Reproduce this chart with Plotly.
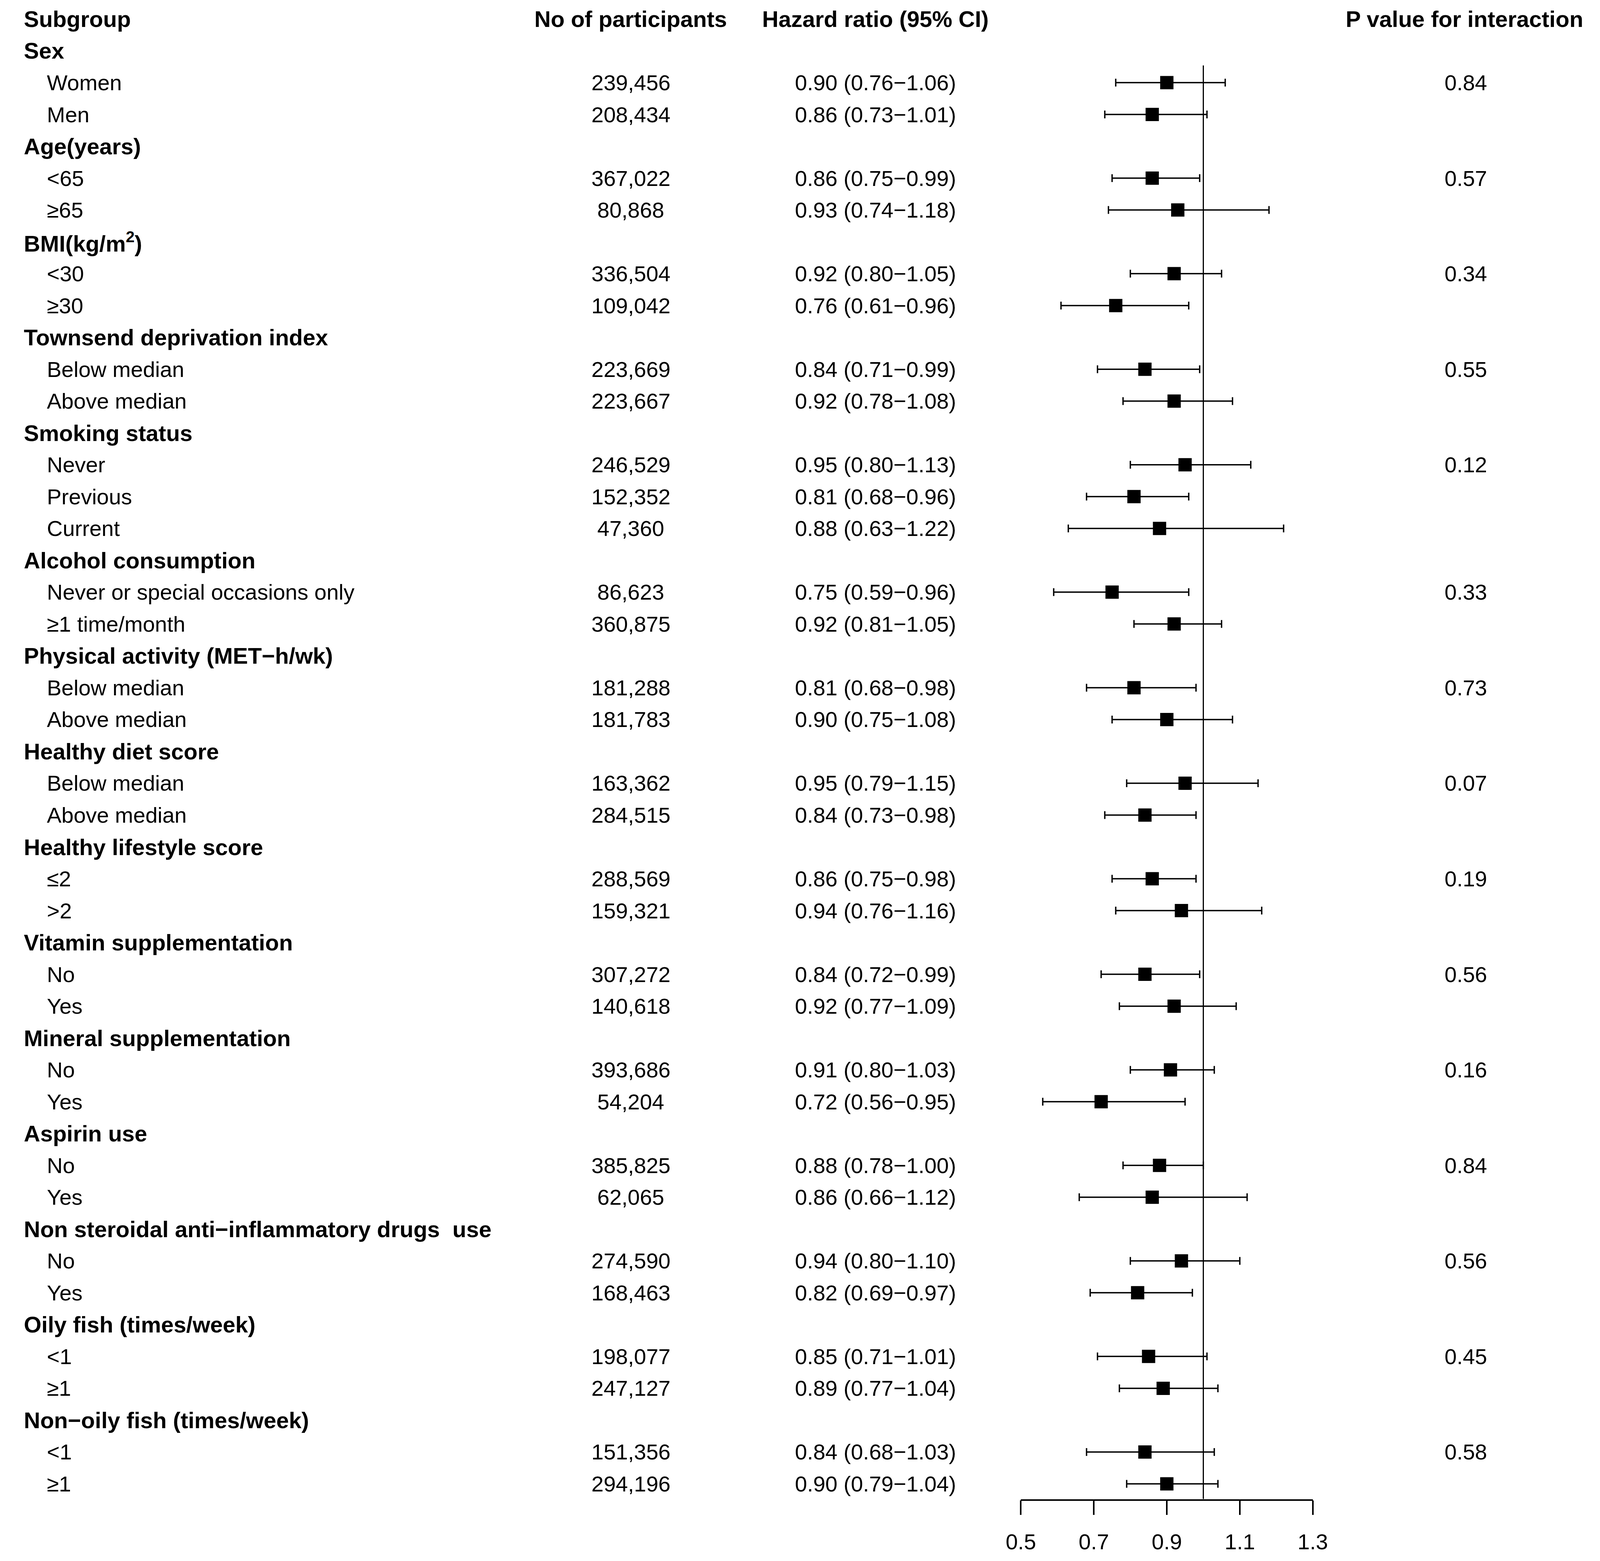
import plotly.graph_objects as go

# subgroup analysis data
groups = [
    "Sex", "Age(years)", "BMI(kg/m<sup>2</sup>)", "Townsend deprivation index",
    "Smoking status", "Alcohol consumption", "Physical activity (MET−h/wk)",
    "Healthy diet score", "Healthy lifestyle score", "Vitamin supplementation",
    "Mineral supplementation", "Aspirin use",
    "Non steroidal anti−inflammatory drugs  use",
    "Oily fish (times/week)", "Non−oily fish (times/week)",
]
group_sizes = [2, 2, 2, 2, 3, 2, 2, 2, 2, 2, 2, 2, 2, 2, 2]
p_interaction = ["0.84", "0.57", "0.34", "0.55", "0.12", "0.33", "0.73", "0.07",
                 "0.19", "0.56", "0.16", "0.84", "0.56", "0.45", "0.58"]

subgroups = [
    "Women", "Men",
    "<65", "≥65",
    "<30", "≥30",
    "Below median", "Above median",
    "Never", "Previous", "Current",
    "Never or special occasions only", "≥1 time/month",
    "Below median", "Above median",
    "Below median", "Above median",
    "≤2", ">2",
    "No", "Yes",
    "No", "Yes",
    "No", "Yes",
    "No", "Yes",
    "<1", "≥1",
    "<1", "≥1",
]
participants = [
    239456, 208434, 367022, 80868, 336504, 109042, 223669, 223667,
    246529, 152352, 47360, 86623, 360875, 181288, 181783, 163362, 284515,
    288569, 159321, 307272, 140618, 393686, 54204, 385825, 62065,
    274590, 168463, 198077, 247127, 151356, 294196,
]
hr = [0.90, 0.86, 0.86, 0.93, 0.92, 0.76, 0.84, 0.92, 0.95, 0.81, 0.88,
      0.75, 0.92, 0.81, 0.90, 0.95, 0.84, 0.86, 0.94, 0.84, 0.92, 0.91,
      0.72, 0.88, 0.86, 0.94, 0.82, 0.85, 0.89, 0.84, 0.90]
lower = [0.76, 0.73, 0.75, 0.74, 0.80, 0.61, 0.71, 0.78, 0.80, 0.68, 0.63,
         0.59, 0.81, 0.68, 0.75, 0.79, 0.73, 0.75, 0.76, 0.72, 0.77, 0.80,
         0.56, 0.78, 0.66, 0.80, 0.69, 0.71, 0.77, 0.68, 0.79]
upper = [1.06, 1.01, 0.99, 1.18, 1.05, 0.96, 0.99, 1.08, 1.13, 0.96, 1.22,
         0.96, 1.05, 0.98, 1.08, 1.15, 0.98, 0.98, 1.16, 0.99, 1.09, 1.03,
         0.95, 1.00, 1.12, 1.10, 0.97, 1.01, 1.04, 1.03, 1.04]
x_ticks = [0.5, 0.7, 0.9, 1.1, 1.3]

# the browser viewport is 4096 px wide, so fit the page into it
# (8 px body margin); layout positions are taken from a 4550x3996 reference
REF_W, REF_H = 4550, 3996
W, H = 4088, 3980
sy = H / REF_H
FONT = "Liberation Sans, Arial, sans-serif"
REG, BOLD = 56, 58

# row layout: 0 = header, then group heading + its subgroup rows
head_rows, sub_rows, p_rows = [], [], []
r = 1
for g, n in zip(groups, group_sizes):
    head_rows.append(r)
    p_rows.append(r + 1)
    sub_rows.extend(range(r + 1, r + 1 + n))
    r += n + 1

row_px, top_px, axis_px = 81.85 * sy, 40.6 * sy, 3845 * sy
y_top = -top_px / row_px
y_bot = (axis_px - top_px) / row_px

fig = go.Figure()
fig.add_trace(go.Scatter(
    x=hr, y=sub_rows, mode="markers",
    marker=dict(symbol="square", size=34, color="black"),
    error_x=dict(type="data", symmetric=False,
                 array=[u - h for u, h in zip(upper, hr)],
                 arrayminus=[h - l for h, l in zip(hr, lower)],
                 color="black", thickness=3.5, width=10),
    cliponaxis=False, showlegend=False, hoverinfo="skip",
))

# reference line at HR = 1
fig.add_shape(type="line", xref="x", yref="y", x0=1, x1=1, y0=1.46, y1=y_bot,
              line=dict(color="black", width=3))

ann = []
def txt(x, y, s, size=REG, anchor="left"):
    ann.append(dict(x=x, y=y, xref="paper", yref="y", text=s, showarrow=False,
                    xanchor=anchor, yanchor="middle",
                    font=dict(family=FONT, size=size, color="black")))

col_sub, col_ind = 14 / REF_W, 81 / REF_W
col_n, col_hr, col_p = 1779 / REF_W, 2490 / REF_W, 4205 / REF_W

txt(col_sub, 0, "<b>Subgroup</b>", BOLD)
txt(col_n, 0, "<b>No of participants</b>", BOLD, "center")
txt(col_hr, 0, "<b>Hazard ratio (95% CI)</b>", BOLD, "center")
txt(col_p - 4 / REF_W, 0, "<b>P value for interaction</b>", BOLD, "center")

for g, row in zip(groups, head_rows):
    txt(col_sub, row, f"<b>{g}</b>", BOLD)
for p, row in zip(p_interaction, p_rows):
    txt(col_p, row, p, REG, "center")
for i, row in enumerate(sub_rows):
    txt(col_ind, row, subgroups[i])
    txt(col_n, row, f"{participants[i]:,}", REG, "center")
    txt(col_hr, row, f"{hr[i]:.2f} ({lower[i]:.2f}−{upper[i]:.2f})", REG, "center")

fig.update_layout(
    width=W, height=H, margin=dict(l=0, r=0, t=0, b=0),
    paper_bgcolor="white", plot_bgcolor="white",
    font=dict(family=FONT, size=REG, color="black"),
    annotations=ann,
    xaxis=dict(domain=[2912 / REF_W, 3760 / REF_W], range=[0.5, 1.3],
               tickvals=x_ticks, ticktext=[f"{t:.1f}" for t in x_ticks],
               showline=True, linecolor="black", linewidth=3.5,
               ticks="outside", ticklen=37, tickwidth=3.5, tickcolor="black",
               ticklabelstandoff=20,
               showgrid=False, zeroline=False,
               tickfont=dict(family=FONT, size=REG, color="black")),
    yaxis=dict(domain=[1 - axis_px / H, 1], range=[y_bot, y_top],
               visible=False, showgrid=False, zeroline=False),
)

fig.write_html("out.html")
